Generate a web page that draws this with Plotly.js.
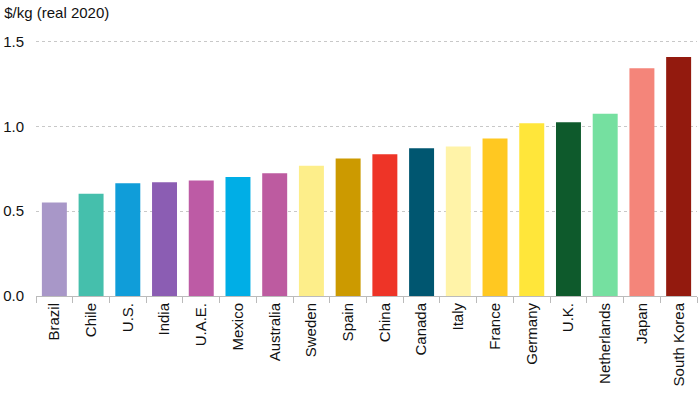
<!DOCTYPE html>
<html>
<head>
<meta charset="utf-8">
<script src="https://cdn.plot.ly/plotly-3.0.1.min.js"></script>
<style>html,body{margin:0;padding:0;background:#fff;}#chart{width:700px;height:397px;}</style>
</head>
<body>
<div id="chart"></div>
<script>
const countries = ["Brazil","Chile","U.S.","India","U.A.E.","Mexico","Australia","Sweden","Spain","China","Canada","Italy","France","Germany","U.K.","Netherlands","Japan","South Korea"];
const pricePerKg = [0.552,0.603,0.665,0.671,0.682,0.702,0.724,0.769,0.811,0.836,0.872,0.882,0.929,1.019,1.025,1.075,1.343,1.410];
const barColors = ["#A897C8","#45BFAC","#109DD9","#8B5DB3","#BD5BA5","#00AEE6","#BD5BA0","#FDEE8A","#CC9A00","#EE3427","#005670","#FFF3A8","#FFC821","#FFE63A","#0E5A2C","#75E0A0","#F4857A","#931A0E"];
const yTicks = [0, 0.5, 1.0, 1.5];
const yTickLabels = ["0.0","0.5","1.0","1.5"];

const trace = {
  type: "bar",
  x: countries,
  y: pricePerKg,
  marker: {color: barColors, line: {width: 0}},
  hoverinfo: "x+y"
};

const layout = {
  width: 700, height: 397,
  margin: {l: 36, r: 3, t: 40, b: 101},
  paper_bgcolor: "#fff", plot_bgcolor: "#fff",
  font: {family: "Liberation Sans, Arial, sans-serif", size: 15, color: "#111"},
  bargap: 0.32,
  showlegend: false,
  title: {text: "$/kg (real 2020)", xref: "container", yref: "container", x: 0.006, xanchor: "left", y: 0.967, yanchor: "middle", font: {size: 15, color: "#111"}},
  xaxis: {
    tickangle: -90,
    ticks: "outside", tickson: "boundaries", ticklen: 6, tickcolor: "#bbb", tickwidth: 1,
    showline: true, linecolor: "#bbb", linewidth: 1,
    showgrid: false,
    tickfont: {size: 15, color: "#111"}
  },
  yaxis: {
    range: [0, 1.51],
    tickvals: yTicks, ticktext: yTickLabels,
    showgrid: true, gridcolor: "#c8c8c8", griddash: "dot", gridwidth: 1,
    zeroline: false, showline: false,
    ticks: "", ticklabelstandoff: 11,
    tickfont: {size: 15, color: "#111"}
  }
};

Plotly.newPlot("chart", [trace], layout, {displayModeBar: false, staticPlot: true});
</script>
</body>
</html>
